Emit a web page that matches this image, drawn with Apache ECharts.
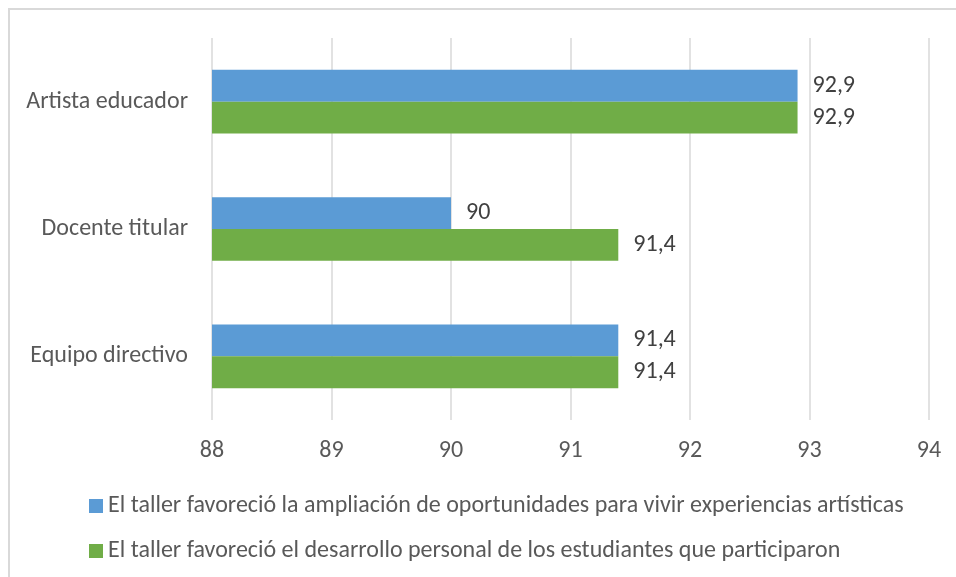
<!DOCTYPE html>
<html>
<head>
<meta charset="utf-8">
<script src="https://cdn.jsdelivr.net/npm/echarts@6/dist/echarts.min.js"></script>
<style>
  html, body { margin: 0; padding: 0; background: #fff; }
  #frame { position: absolute; left: 8px; top: 8px; width: 1000px; height: 700px; border: 2px solid #D9D9D9; box-sizing: border-box; }
  #chart { position: absolute; left: 0; top: 0; width: 956px; height: 577px; }
</style>
</head>
<body>
<div id="frame"></div>
<div id="chart"></div>
<script>
const categories = ['Artista educador', 'Docente titular', 'Equipo directivo'];
const seriesNames = [
  'El taller favoreció la ampliación de oportunidades para vivir experiencias artísticas',
  'El taller favoreció el desarrollo personal de los estudiantes que participaron'
];
const valuesAmpliacion = [92.9, 90, 91.4];
const valuesDesarrollo = [92.9, 91.4, 91.4];
const xTicks = [88, 89, 90, 91, 92, 93, 94];

const FONT = 'Carlito, Lato, "Liberation Sans", sans-serif';
const FS = 24;
const chart = echarts.init(document.getElementById('chart'), null, { renderer: 'canvas' });

const labelCfg = {
  show: true,
  position: 'right',
  distance: 15,
  color: '#404040',
  fontSize: FS,
  fontFamily: FONT,
  formatter: p => String(p.value).replace('.', ',')
};

chart.setOption({
  animation: false,
  backgroundColor: 'transparent',
  grid: { left: 212, right: 27, top: 38, bottom: 157, containLabel: false },
  legend: {
    orient: 'vertical',
    left: 84,
    top: 489,
    itemGap: 21,
    itemWidth: 14,
    itemHeight: 14,
    icon: 'rect',
    textStyle: { color: '#595959', fontSize: FS, lineHeight: 24, fontFamily: FONT },
    data: seriesNames
  },
  xAxis: {
    type: 'value',
    min: xTicks[0],
    max: xTicks[xTicks.length - 1],
    interval: 1,
    axisLine: { show: false },
    axisTick: { show: false },
    axisLabel: { color: '#595959', fontSize: FS, fontFamily: FONT, margin: 19 },
    splitLine: { show: true, lineStyle: { color: '#D9D9D9', width: 1.5 } }
  },
  yAxis: {
    type: 'category',
    inverse: true,
    data: categories,
    axisLine: { show: false },
    axisTick: { show: false },
    axisLabel: { color: '#595959', fontSize: FS, fontFamily: FONT, margin: 24 }
  },
  series: [
    {
      name: seriesNames[0],
      type: 'bar',
      data: valuesAmpliacion,
      itemStyle: { color: '#5B9BD5' },
      barGap: '0%',
      barCategoryGap: '50%',
      label: labelCfg
    },
    {
      name: seriesNames[1],
      type: 'bar',
      data: valuesDesarrollo,
      itemStyle: { color: '#70AD47' },
      barGap: '0%',
      barCategoryGap: '50%',
      label: labelCfg
    }
  ]
});
</script>
</body>
</html>
